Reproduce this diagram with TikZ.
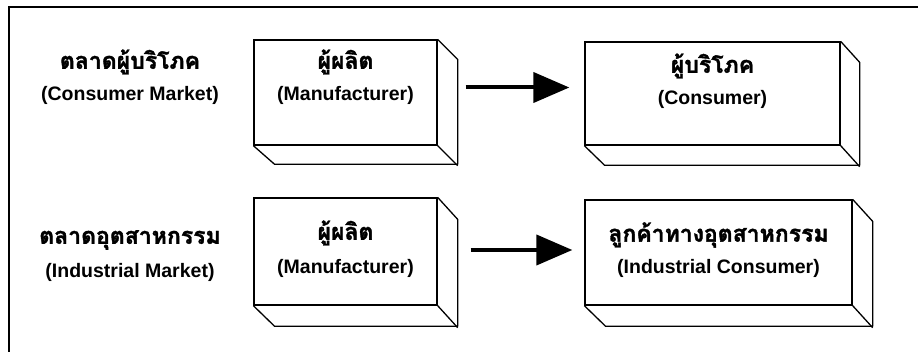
\documentclass[tikz,border=0pt]{standalone}
\usepackage{fontspec}
\setmainfont{Liberation Sans}
\newfontfamily\thaifont[Script=Thai,BoldFeatures={FakeBold=1.6}]{Loma}
\usetikzlibrary{arrows.meta,calc}
\begin{document}
\begin{tikzpicture}[x=1pt,y=-1pt,
  frontface/.style={draw=black, line width=1.3pt, fill=white, inner sep=0pt},
  depth/.style={draw=black, line width=1.3pt, line join=round},
  englbl/.style={font=\fontsize{19.5}{22}\selectfont\bfseries, inner sep=0pt},
  thailbl/.style={font=\fontsize{23}{26}\selectfont\thaifont\bfseries, inner sep=0pt},
  flow/.style={line width=4pt, -{Triangle[length=36pt,width=30pt]}},
  framestyle/.style={line width=2.5pt}]
\useasboundingbox (0,0) rectangle (918,352);
% outer frame
\draw[framestyle] (9,352) -- (9,7) -- (918,7);

% left labels
\node[thailbl] (l1a) at (130,62) {ตลาดผู้บริโภค};
\node[englbl] (l1b) at (130,95) {(Consumer Market)};
\node[thailbl] (l2a) at (130,240) {ตลาดอุตสาหกรรม};
\node[englbl] (l2b) at (130,272) {(Industrial Market)};

% box m1
\node[frontface, minimum width=183pt, minimum height=105pt] (m1) at (345.5,92.5) {};
\draw[depth] (m1.north east) -- ++(20,20) -- ++(0,105) -- ++(-183,0) -- (m1.south west);
\draw[depth] (m1.south east) -- ++(20,20);
\node[thailbl] (m1a) at (345.5,62) {ผู้ผลิต};
\node[englbl] (m1b) at (345.5,95) {(Manufacturer)};

% box c1
\node[frontface, minimum width=255pt, minimum height=103pt] (c1) at (712.5,93.5) {};
\draw[depth] (c1.north east) -- ++(19,21) -- ++(0,103) -- ++(-255,0) -- (c1.south west);
\draw[depth] (c1.south east) -- ++(19,21);
\node[thailbl] (c1a) at (712.5,66) {ผู้บริโภค};
\node[englbl] (c1b) at (712.5,99) {(Consumer)};

% box m2
\node[frontface, minimum width=183pt, minimum height=107pt] (m2) at (345.5,251.5) {};
\draw[depth] (m2.north east) -- ++(20,22) -- ++(0,107) -- ++(-183,0) -- (m2.south west);
\draw[depth] (m2.south east) -- ++(20,22);
\node[thailbl] (m2a) at (345.5,233) {ผู้ผลิต};
\node[englbl] (m2b) at (345.5,268) {(Manufacturer)};

% box c2
\node[frontface, minimum width=267pt, minimum height=105pt] (c2) at (718.5,252.5) {};
\draw[depth] (c2.north east) -- ++(20,22) -- ++(0,105) -- ++(-267,0) -- (c2.south west);
\draw[depth] (c2.south east) -- ++(20,22);
\node[thailbl] (c2a) at (718.5,235) {ลูกค้าทางอุตสาหกรรม};
\node[englbl] (c2b) at (718.5,268) {(Industrial Consumer)};

% arrows
\draw[flow] ([xshift=28pt,yshift=5pt]m1.east) -- ([xshift=-15pt,yshift=6pt]c1.west);
\draw[flow] ([xshift=33pt,yshift=1.5pt]m2.east) -- ([xshift=-12pt,yshift=2.5pt]c2.west);
\end{tikzpicture}
\end{document}
